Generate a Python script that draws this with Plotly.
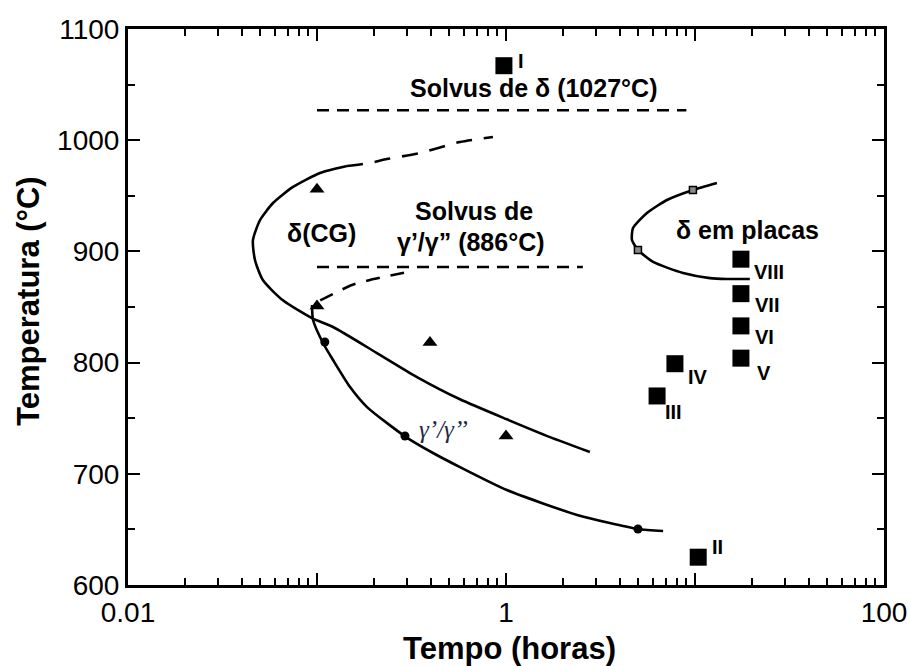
import math
import plotly.graph_objects as go

# ---- TTT diagram data (time in hours, temperature in °C) ----
# delta phase at grain boundaries (C-curve), solid and dashed branches
delta_cg_time = [2.78, 1.71, 1.01, 0.571, 0.338, 0.2075, 0.1216, 0.0941, 0.066,
                 0.0518, 0.047, 0.0458, 0.0499, 0.0585, 0.0747, 0.1037, 0.144]
delta_cg_temp = [719.6, 733, 749, 767, 787, 808.6, 832, 840, 856,
                 874, 892, 910, 928, 943.5, 958, 970.5, 976.8]
delta_cg_dash_time = [0.144, 0.1905, 0.2344, 0.351, 0.571, 0.853]
delta_cg_dash_temp = [976.8, 979.5, 983, 988.5, 998.4, 1002.9]

# gamma' / gamma'' C-curve
gamma_time = [0.0941, 0.0953, 0.1076, 0.1216, 0.1496, 0.184, 0.296, 0.411, 0.571,
              1.01, 2.38, 4.99, 6.78]
gamma_temp = [851.8, 838.3, 817.6, 802.3, 778, 760, 733, 718.7, 706,
              685.4, 663, 650.4, 648.6]
gamma_dash_time = [0.104, 0.1245, 0.153, 0.1905, 0.2375, 0.303]
gamma_dash_temp = [856, 862.6, 869.8, 874.3, 877.9, 881.5]

# plate-like delta C-curve
plate_time = [13.06, 9.75, 7.11, 5.57, 4.7, 4.64, 4.99, 6.0, 8.65, 12.0, 14.75, 19.5]
plate_temp = [961.5, 955.2, 946.2, 934.5, 921, 910.3, 901.3, 890.5, 880.6, 876, 875.2, 875.2]
plate_pts_time = [9.75, 4.99]
plate_pts_temp = [955.2, 901.3]

# solvus temperatures and the time span of their lines
solvus_delta = 1027
solvus_delta_span = [0.1, 9.0]
solvus_gamma = 886
solvus_gamma_span = [0.1, 2.55]

# heat-treatment conditions
cond_names = ["I", "II", "III", "IV", "V", "VI", "VII", "VIII"]
cond_time = [0.975, 10.4, 6.3, 7.83, 17.5, 17.5, 17.5, 17.5]
cond_temp = [1067, 625, 770, 799, 804, 833, 862, 893]

# literature points
tri_time = [0.1, 0.1, 0.396, 1.0]
tri_temp = [956, 851, 818, 734]
dot_time = [0.110, 0.292, 4.99]
dot_temp = [818.5, 734, 650.4]

# axis ticks
x_major = [0.01, 0.1, 1, 10, 100]
x_major_text = ["0.01", "", "1", "", "100"]
x_minor = [m * d for d in (0.01, 0.1, 1, 10) for m in range(2, 10)]
y_major = [600, 700, 800, 900, 1000, 1100]
y_minor = [650, 750, 850, 950, 1050]

# label offsets (px) for the condition numerals
label_shift = {
    "I": (17, 5), "II": (19, 10), "III": (16, -16), "IV": (23, -13),
    "V": (23, -15), "VI": (24, -11), "VII": (26, -11), "VIII": (28, -13),
}

BLACK = "#000000"
SANS = "Liberation Sans, Arial, sans-serif"
LW = 2.6

fig = go.Figure()

def curve(x, y, dash="solid", width=LW):
    fig.add_trace(go.Scatter(x=x, y=y, mode="lines",
                             line=dict(color=BLACK, width=width, dash=dash,
                                       shape="spline", smoothing=0.6),
                             hoverinfo="skip", showlegend=False))

curve(delta_cg_time, delta_cg_temp)
curve(delta_cg_dash_time, delta_cg_dash_temp, dash="16px,12px")
curve(gamma_time, gamma_temp)
curve(gamma_dash_time, gamma_dash_temp, dash="14px,11px")
curve(plate_time, plate_temp)

# solvus lines
for T, span in ((solvus_delta, solvus_delta_span), (solvus_gamma, solvus_gamma_span)):
    fig.add_trace(go.Scatter(x=span, y=[T, T], mode="lines",
                             line=dict(color=BLACK, width=LW, dash="12px,8px"),
                             hoverinfo="skip", showlegend=False))

# markers
fig.add_trace(go.Scatter(x=plate_pts_time, y=plate_pts_temp, mode="markers",
                         marker=dict(symbol="square", size=7, color="#8a8a8a",
                                     line=dict(color=BLACK, width=1.5)),
                         showlegend=False, hoverinfo="skip"))
fig.add_trace(go.Scatter(x=tri_time, y=tri_temp, mode="markers",
                         marker=dict(symbol="triangle-up", size=13, color=BLACK),
                         showlegend=False, hoverinfo="skip"))
fig.add_trace(go.Scatter(x=dot_time, y=dot_temp, mode="markers",
                         marker=dict(symbol="circle", size=9, color=BLACK),
                         showlegend=False, hoverinfo="skip"))
fig.add_trace(go.Scatter(x=cond_time, y=cond_temp, mode="markers",
                         marker=dict(symbol="square", size=17, color=BLACK),
                         showlegend=False, hoverinfo="skip"))

# numerals beside the condition squares (annotation x on a log axis is log10)
for name, t, T in zip(cond_names, cond_time, cond_temp):
    dx, dy = label_shift[name]
    fig.add_annotation(x=math.log10(t), y=T, xref="x", yref="y", text=name,
                       showarrow=False, xshift=dx, yshift=dy,
                       font=dict(family=SANS, size=20, color=BLACK, weight="bold"))

def label(x_log, y, text, size=25, **kw):
    fig.add_annotation(x=x_log, y=y, xref="x", yref="y", text=text, showarrow=False,
                       font=dict(family=SANS, size=size, color=BLACK, weight="bold"), **kw)

label(0.148, 1046.5, "Solvus de δ (1027°C)")
label(-0.974, 916.5, "δ(CG)")
label(-0.169, 936.3, "Solvus de")
label(-0.185, 908.4, "γ’/γ” (886°C)")
label(1.280, 919, "δ em placas")
fig.add_annotation(x=-0.333, y=739.4, xref="x", yref="y", text="<i>γ’/γ’’</i>",
                   showarrow=False,
                   font=dict(family="Liberation Serif, Times New Roman, serif",
                             size=25, color="#1f2a44"))

# axis titles
fig.add_annotation(x=0.504, y=-0.115, xref="paper", yref="paper",
                   xanchor="center", yanchor="middle",
                   text="<b>Tempo (horas)</b>", showarrow=False,
                   font=dict(family=SANS, size=31, color=BLACK))
fig.add_annotation(x=-0.131, y=0.511, xref="paper", yref="paper",
                   xanchor="center", yanchor="middle",
                   text="<b>Temperatura (°C)</b>", showarrow=False, textangle=-90,
                   font=dict(family=SANS, size=31, color=BLACK))

axis_common = dict(
    showline=True, linecolor=BLACK, linewidth=3, mirror="allticks",
    ticks="inside", tickcolor=BLACK, tickwidth=2, ticklen=12,
    showgrid=False, zeroline=False, automargin=False,
    tickfont=dict(family=SANS, size=28, color=BLACK),
)

fig.update_xaxes(type="log", range=[-2, 2], tickvals=x_major, ticktext=x_major_text,
                 minor=dict(tickvals=x_minor, ticks="inside", ticklen=7,
                            tickwidth=2, tickcolor=BLACK, showgrid=False),
                 **axis_common)
fig.update_yaxes(range=[600, 1100], tickvals=y_major,
                 minor=dict(tickvals=y_minor, ticks="inside", ticklen=7,
                            tickwidth=2, tickcolor=BLACK, showgrid=False),
                 **axis_common)

fig.update_layout(
    width=910, height=666,
    margin=dict(l=128, r=26, t=29, b=81),
    plot_bgcolor="white", paper_bgcolor="white",
    showlegend=False,
)

fig.write_html("out.html")
